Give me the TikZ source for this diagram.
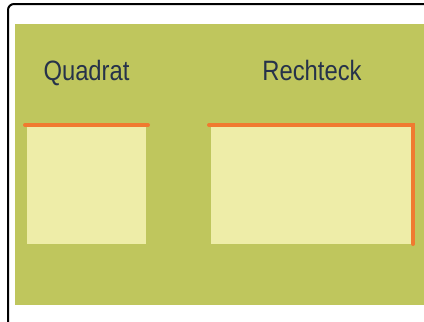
\documentclass[tikz,border=0pt]{standalone}
\usepackage{fontspec}
\setmainfont{Liberation Sans}
\usepackage{tikz}
\usetikzlibrary{positioning}

\definecolor{tafelgruen}{HTML}{BFC65D}
\definecolor{flaechegelb}{HTML}{EEEDA8}
\definecolor{kantenorange}{HTML}{F07A30}
\definecolor{schriftblau}{HTML}{26324A}

\begin{document}
\begin{tikzpicture}[
          x=1pt, y=-1pt, % 以像素为单位, y 向下
          titel/.style={text=schriftblau, anchor=base, xscale=0.85,
                        font=\fontsize{28}{30}\selectfont}, % 标题文字
          kante/.style={kantenorange, line width=4pt, line cap=round} % 橙色边
      ]
        \clip (0,0) rectangle (424,322);
        % 外框和绿色背景
        \draw[line width=2pt, rounded corners=6pt] (8,4) rectangle (450,340);
        \fill[tafelgruen] (15,24) rectangle (430,305);
        % 标题
        \node[titel] (quadrat) at (86.5,80) {Quadrat};
        \node[titel] (rechteck) at (312,80) {Rechteck};
        % 正方形和长方形的面
        \fill[flaechegelb] (27,126) rectangle (146,244);
        \fill[flaechegelb] (211,126) rectangle (411,244);
        % 标出的边
        \draw[kante] (25,125) -- (148,125);
        \draw[kante] (209,125) -- (413,125) -- (413,244);
      \end{tikzpicture}
\end{document}
